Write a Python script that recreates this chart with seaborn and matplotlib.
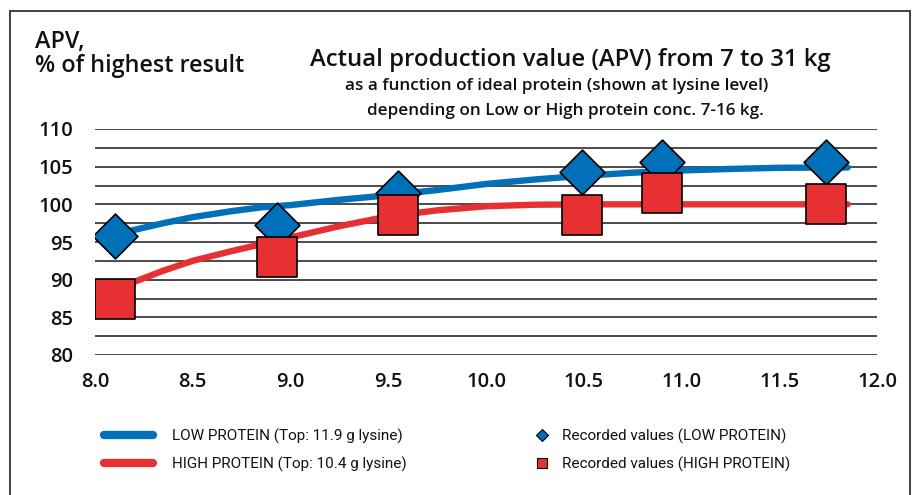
import matplotlib
matplotlib.use("Agg")
import matplotlib.pyplot as plt
import pandas as pd
import seaborn as sns
from matplotlib.lines import Line2D
from matplotlib.patches import Rectangle
from matplotlib.ticker import MultipleLocator, FormatStrFormatter

BLUE = "#0070B9"
RED = "#E63032"

# fitted curves
LOW_CURVE_X = [8.1, 8.2, 8.35, 8.5, 8.7, 8.85, 9.0, 9.25, 9.5, 9.75, 10.0, 10.25, 10.5, 10.75, 11.0, 11.25, 11.5, 11.85]
LOW_CURVE_Y = [96.0, 96.6, 97.5, 98.3, 99.1, 99.6, 99.9, 100.6, 101.2, 101.9, 102.7, 103.3, 103.8, 104.2, 104.5, 104.7, 104.85, 104.9]
HIGH_CURVE_X = [8.1, 8.2, 8.35, 8.5, 8.7, 8.85, 9.0, 9.25, 9.5, 9.75, 10.0, 10.25, 10.5, 11.0, 11.5, 11.85]
HIGH_CURVE_Y = [88.6, 89.7, 91.2, 92.5, 93.8, 94.7, 95.6, 97.1, 98.4, 99.2, 99.75, 99.95, 100.0, 100.0, 100.0, 100.0]

# recorded values
LOW_REC_X = [8.1, 8.93, 9.55, 10.49, 10.9, 11.74]
LOW_REC_Y = [95.8, 97.2, 101.5, 104.25, 105.6, 105.6]
HIGH_REC_X = [8.1, 8.93, 9.55, 10.49, 10.9, 11.74]
HIGH_REC_Y = [87.4, 93.0, 98.6, 98.6, 101.45, 100.0]

X_TICKS = [8.0, 8.5, 9.0, 9.5, 10.0, 10.5, 11.0, 11.5, 12.0]
Y_TICKS = [80, 85, 90, 95, 100, 105, 110]

LINE_LABELS = ["LOW PROTEIN (Top: 11.9 g lysine)", "HIGH PROTEIN (Top: 10.4 g lysine)"]
REC_LABELS = ["Recorded values (LOW PROTEIN)", "Recorded values (HIGH PROTEIN)"]

sns.set_theme(style="white")
plt.rcParams["font.family"] = ["Open Sans", "DejaVu Sans"]
plt.rcParams["text.color"] = "#111111"

low_curve = pd.DataFrame({"x": LOW_CURVE_X, "y": LOW_CURVE_Y})
high_curve = pd.DataFrame({"x": HIGH_CURVE_X, "y": HIGH_CURVE_Y})
low_rec = pd.DataFrame({"x": LOW_REC_X, "y": LOW_REC_Y})
high_rec = pd.DataFrame({"x": HIGH_REC_X, "y": HIGH_REC_Y})

fig = plt.figure(figsize=(9.17, 4.95), dpi=100)
ax = fig.add_axes([95 / 917, 1 - 355 / 495, 782 / 917, 226 / 495])

sns.lineplot(data=low_curve, x="x", y="y", ax=ax, color=BLUE, lw=4.6,
             solid_capstyle="round", sort=False, zorder=3)
sns.lineplot(data=high_curve, x="x", y="y", ax=ax, color=RED, lw=4.6,
             solid_capstyle="round", sort=False, zorder=3)
sns.scatterplot(data=low_rec, x="x", y="y", ax=ax, marker="D", s=520,
                color=BLUE, edgecolor="black", linewidth=1.2, zorder=4)
sns.scatterplot(data=high_rec, x="x", y="y", ax=ax, marker="s", s=820,
                color=RED, edgecolor="black", linewidth=1.2, zorder=5)

ax.set_xlim(8.0, 12.0)
ax.set_ylim(80, 110)
ax.set_xticks(X_TICKS)
ax.set_yticks(Y_TICKS)
ax.xaxis.set_major_formatter(FormatStrFormatter("%.1f"))
ax.yaxis.set_minor_locator(MultipleLocator(2.5))
ax.grid(axis="y", which="both", color="#1a1a1a", lw=1.1, zorder=1)
ax.grid(axis="x", visible=False)
ax.set_axisbelow(True)
for s in ax.spines.values():
    s.set_visible(False)
ax.tick_params(axis="both", which="both", length=0, labelsize=14.5, colors="#111111")
ax.tick_params(axis="y", pad=16)
ax.tick_params(axis="x", pad=12)
for lbl in ax.get_xticklabels() + ax.get_yticklabels():
    lbl.set_fontweight("semibold")
ax.set_xlabel("")
ax.set_ylabel("")

fig.text(35 / 917, 1 - 54 / 495, "APV,\n% of highest result", fontsize=16.8,
         ha="left", va="center", linespacing=1.05, fontweight="semibold")
fig.text(570 / 917, 1 - 60 / 495, "Actual production value (APV) from 7 to 31 kg",
         fontsize=17.2, ha="center", va="center", fontweight="semibold")
fig.text(557 / 917, 1 - 86 / 495, "as a function of ideal protein (shown at lysine level)",
         fontsize=12.3, ha="center", va="center", fontweight="semibold")
fig.text(565 / 917, 1 - 111 / 495, "depending on Low or High protein conc. 7-16 kg.",
         fontsize=12.3, ha="center", va="center", fontweight="semibold")

leg_font = {"family": ["Roboto", "DejaVu Sans"], "size": 11}
line_handles = [
    Line2D([], [], color=BLUE, lw=6, solid_capstyle="round"),
    Line2D([], [], color=RED, lw=6, solid_capstyle="round"),
]
rec_handles = [
    Line2D([], [], ls="none", marker="D", ms=6, color=BLUE, mec="black", mew=0.8),
    Line2D([], [], ls="none", marker="s", ms=7, color=RED, mec="black", mew=0.8),
]
leg1 = fig.legend(line_handles, LINE_LABELS, loc="center left", frameon=False,
                  bbox_to_anchor=(104 / 917, 1 - 450 / 495), borderpad=0,
                  borderaxespad=0, handlelength=35 / 11, handletextpad=13.7 / 11,
                  labelspacing=0.85, prop=leg_font)
leg2 = fig.legend(rec_handles, REC_LABELS, loc="center left", frameon=False,
                  bbox_to_anchor=(534 / 917, 1 - 450 / 495), borderpad=0,
                  borderaxespad=0, handlelength=1.0, handletextpad=0.8,
                  labelspacing=0.85, prop=leg_font)

fig.patches.append(Rectangle((10 / 917, -0.2), 900 / 917, 1.2 - 11 / 495,
                             transform=fig.transFigure, fill=False,
                             edgecolor="#333333", lw=1.3))

fig.savefig("out.png", dpi=100)
